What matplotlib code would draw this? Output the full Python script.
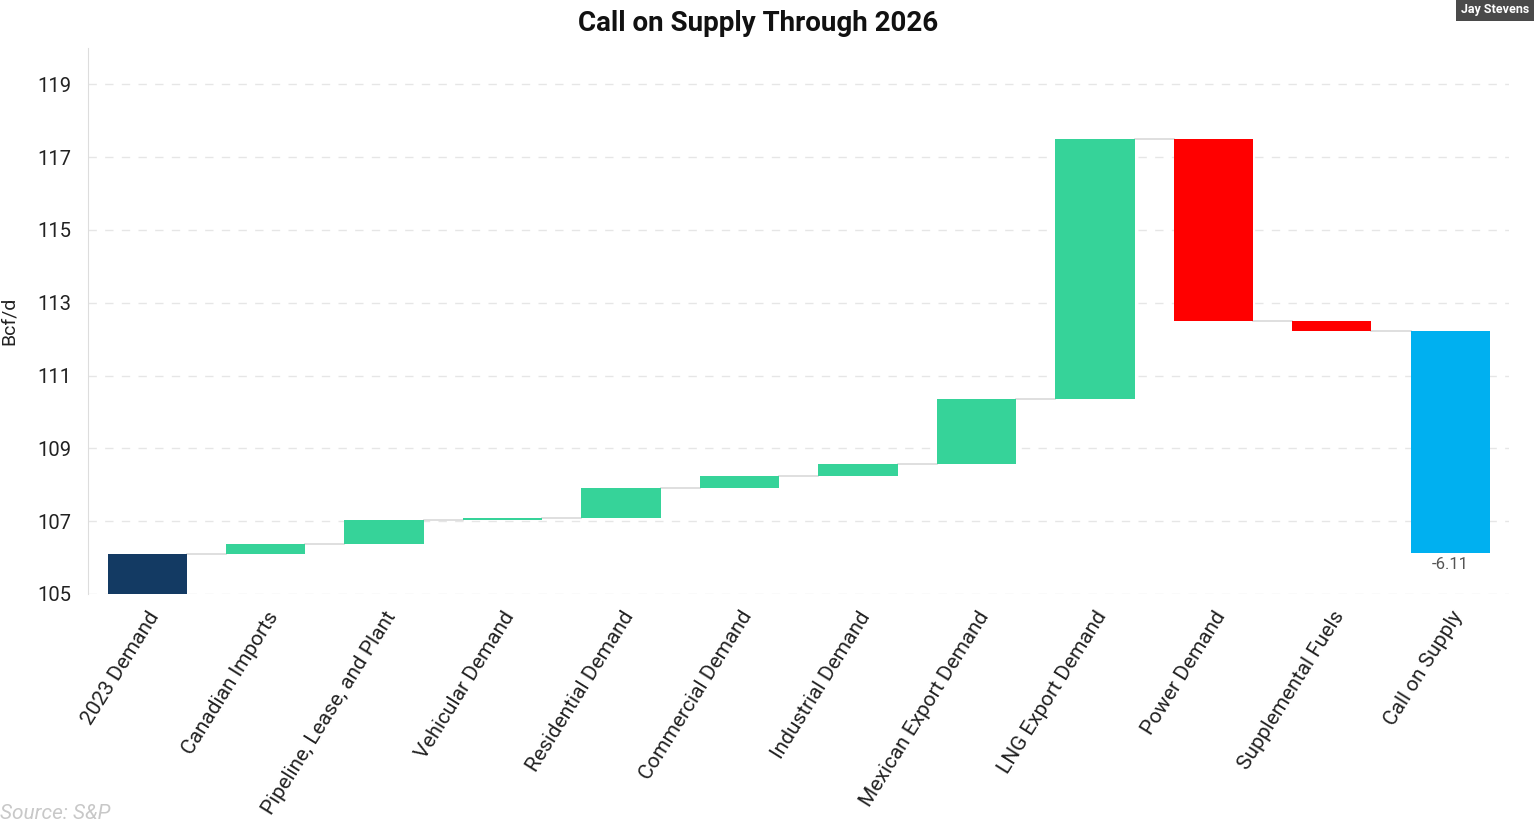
import matplotlib.pyplot as plt
import numpy as np

plt.rcParams['font.family'] = ['Roboto', 'DejaVu Sans']

categories = ["2023 Demand", "Canadian Imports", "Pipeline, Lease, and Plant",
              "Vehicular Demand", "Residential Demand", "Commercial Demand",
              "Industrial Demand", "Mexican Export Demand", "LNG Export Demand",
              "Power Demand", "Supplemental Fuels", "Call on Supply"]
start_value = 106.11
changes = [0.25, 0.68, 0.06, 0.82, 0.33, 0.33, 1.78, 7.14, -5.00, -0.27]
call_on_supply = -6.11

# running totals for the floating bars
levels = [start_value]
for c in changes:
    levels.append(levels[-1] + c)
end_level = levels[-1]

fig = plt.figure(figsize=(15.34, 8.23), dpi=100)
ax = fig.add_axes([0.0574, 0.2783, 0.9266, 0.6634])

width = 0.67
x = np.arange(len(categories))
ymin = 105

# first bar (total)
ax.bar(x[0], start_value - ymin, bottom=ymin, width=width, color="#133A63", zorder=3)

# change bars
for i, c in enumerate(changes):
    col = "#36D399" if c >= 0 else "#FF0000"
    ax.bar(x[i + 1], c, bottom=levels[i], width=width, color=col, zorder=3)

# final call on supply bar
ax.bar(x[-1], call_on_supply, bottom=end_level, width=width, color="#00B0F0", zorder=3)
ax.text(x[-1], end_level + call_on_supply - 0.1, f"{call_on_supply:.2f}",
        ha="center", va="top", fontsize=12, color="#555555")

# connectors
for i, lv in enumerate(levels):
    ax.plot([x[i] + width / 2, x[i + 1] - width / 2], [lv, lv],
            color="#d9d9d9", lw=1.2, zorder=2)

ax.set_xlim(-0.5, len(categories) - 0.5)
ax.set_ylim(105, 120)
ax.set_yticks(np.arange(105, 120, 2))
ax.tick_params(axis="y", labelsize=14.5, length=0, pad=12, colors="#222222")
ax.set_xticks(x)
ax.set_xticklabels(categories, rotation=58, ha="right", va="top",
                   rotation_mode="anchor", fontsize=15, color="#222222")
ax.tick_params(axis="x", length=0, pad=10)
ax.grid(axis="y", color="#e6e6e6", linestyle=(0, (6, 6)), lw=1, zorder=0)
for s in ["top", "right", "bottom"]:
    ax.spines[s].set_visible(False)
ax.spines["left"].set_color("#dddddd")

ax.set_ylabel("Bcf/d", fontsize=14, color="#222222", labelpad=14)
fig.text(0.494, 0.972, "Call on Supply Through 2026", ha="center", va="center",
         fontsize=20, fontweight="bold", color="#111111")
fig.text(0.0, 0.0, "Source: S&P", ha="left", va="bottom", fontsize=15,
         style="italic", color="#c8c8c8")
fig.text(0.997, 0.988, "Jay Stevens", ha="right", va="center", fontsize=9,
         fontweight="bold", color="white",
         bbox=dict(boxstyle="square,pad=0.4", facecolor="#4a4a4a", edgecolor="none"))

fig.savefig("out.png", dpi=100)
